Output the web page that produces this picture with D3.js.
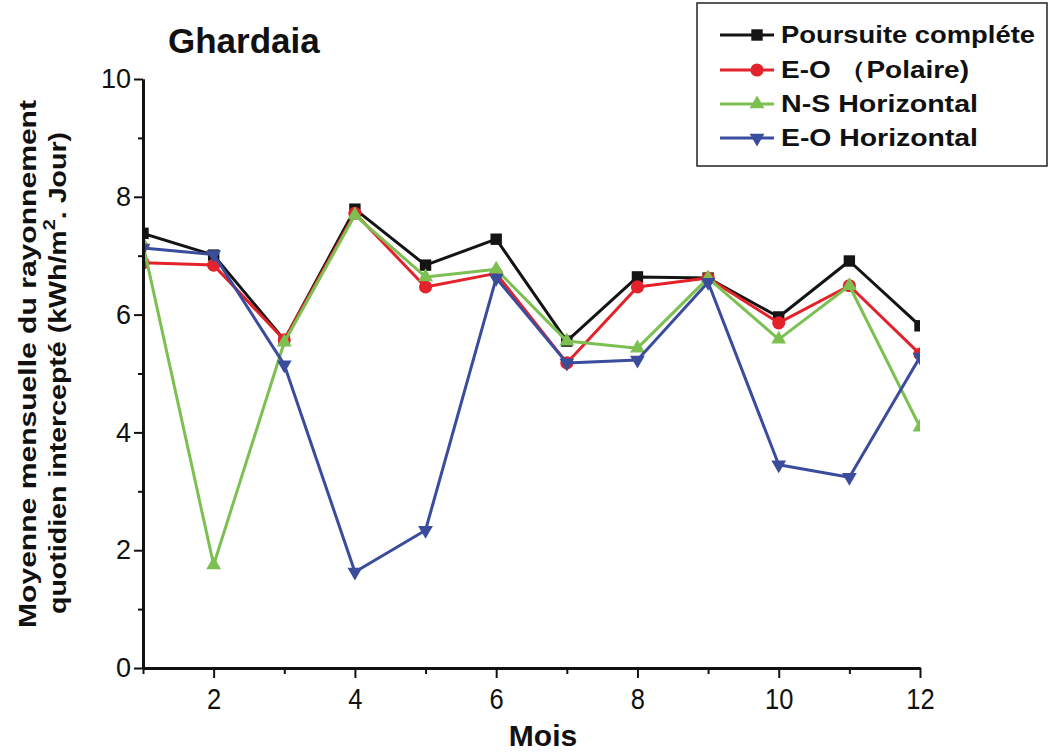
<!DOCTYPE html>
<html>
<head>
<meta charset="utf-8">
<script src="https://cdn.jsdelivr.net/npm/d3@7"></script>
<style>
  body { margin: 0; background: #fff; }
  svg { display: block; }
  text { font-family: "Liberation Sans", Arial, Helvetica, sans-serif; fill: #111; }
</style>
</head>
<body>
<svg id="chart" width="1051" height="755"></svg>
<script>
// Monthly mean daily intercepted irradiation at Ghardaia (kWh/m².Jour)
const months = [1, 2, 3, 4, 5, 6, 7, 8, 9, 10, 11, 12];
const poursuiteComplete = [7.38, 7.01, 5.57, 7.79, 6.84, 7.28, 5.55, 6.64, 6.62, 5.96, 6.91, 5.81];
const eoPolaire         = [6.88, 6.84, 5.57, 7.72, 6.47, 6.70, 5.18, 6.47, 6.62, 5.86, 6.49, 5.33];
const nsHorizontal      = [7.20, 1.75, 5.53, 7.69, 6.64, 6.77, 5.55, 5.43, 6.62, 5.58, 6.49, 4.09];
const eoHorizontal      = [7.13, 7.02, 5.15, 1.63, 2.34, 6.62, 5.18, 5.23, 6.55, 3.45, 3.24, 5.28];
const seriesNames = ["Poursuite compléte", "E-O （Polaire)", "N-S Horizontal", "E-O Horizontal"];

const xMajorTicks = [2, 4, 6, 8, 10, 12];
const xMinorTicks = [1, 3, 5, 7, 9, 11];
const yMajorTicks = [0, 2, 4, 6, 8, 10];
const yMinorTicks = [1, 3, 5, 7, 9];

const titleText = "Ghardaia";
const xLabel = "Mois";

const svg = d3.select("#chart");
const plot = { left: 143, right: 920, top: 79, bottom: 668 };

const x = d3.scaleLinear().domain([1, 12]).range([plot.left, plot.right]);
const y = d3.scaleLinear().domain([0, 10]).range([plot.bottom, plot.top]);

const series = [
  { name: seriesNames[0], values: poursuiteComplete, color: "#141414", symbol: d3.symbolSquare, size: 130, rotate: 0 },
  { name: seriesNames[1], values: eoPolaire,         color: "#e3222b", symbol: d3.symbolCircle, size: 135, rotate: 0 },
  { name: seriesNames[2], values: nsHorizontal,      color: "#7cc052", symbol: d3.symbolTriangle, size: 95, rotate: 0 },
  { name: seriesNames[3], values: eoHorizontal,      color: "#3a4c9c", symbol: d3.symbolTriangle, size: 95, rotate: 180 }
];

// clip marks to the plotting frame
svg.append("defs").append("clipPath").attr("id", "plotClip")
  .append("rect")
  .attr("x", plot.left).attr("y", 0)
  .attr("width", plot.right - plot.left).attr("height", plot.bottom);

const marks = svg.append("g").attr("clip-path", "url(#plotClip)");
const line = d3.line().x((d, i) => x(months[i])).y(d => y(d));

series.forEach(s => {
  const g = marks.append("g");
  g.append("path")
    .attr("d", line(s.values))
    .attr("fill", "none")
    .attr("stroke", s.color)
    .attr("stroke-width", 3)
    .attr("stroke-linejoin", "round");
  g.selectAll("path.pt")
    .data(s.values)
    .join("path")
    .attr("class", "pt")
    .attr("d", d3.symbol().type(s.symbol).size(s.size))
    .attr("transform", (d, i) => `translate(${x(months[i])},${y(d)}) rotate(${s.rotate})`)
    .attr("fill", s.color);
});

// axes
function styleAxis(g) {
  g.select(".domain").attr("stroke", "#111").attr("stroke-width", 3);
  g.selectAll(".tick line").attr("stroke", "#111").attr("stroke-width", 2);
}

const yAxisMinor = svg.append("g")
  .attr("transform", `translate(${plot.left},0)`)
  .call(d3.axisLeft(y).tickValues(yMinorTicks).tickSize(5).tickSizeOuter(0).tickFormat(""));
styleAxis(yAxisMinor);

const yAxis = svg.append("g")
  .attr("transform", `translate(${plot.left},0)`)
  .call(d3.axisLeft(y).tickValues(yMajorTicks).tickSize(9).tickSizeOuter(0).tickPadding(3).tickFormat(d3.format("d")));
styleAxis(yAxis);
yAxis.selectAll(".tick text")
  .attr("font-size", 27)
  .attr("font-family", "'Liberation Sans', Arial, sans-serif")
  .attr("fill", "#222");

const xAxisMinor = svg.append("g")
  .attr("transform", `translate(0,${plot.bottom})`)
  .call(d3.axisBottom(x).tickValues(xMinorTicks).tickSize(6).tickSizeOuter(0).tickFormat(""));
styleAxis(xAxisMinor);

const xAxis = svg.append("g")
  .attr("transform", `translate(0,${plot.bottom})`)
  .call(d3.axisBottom(x).tickValues(xMajorTicks).tickSize(10).tickSizeOuter(0).tickPadding(10).tickFormat(d3.format("d")));
styleAxis(xAxis);
xAxis.selectAll(".tick text")
  .attr("font-size", 30)
  .attr("font-family", "'Liberation Sans', Arial, sans-serif")
  .attr("fill", "#222")
  .attr("transform", "scale(0.85,1)");

// title
svg.append("text")
  .attr("x", 168).attr("y", 53)
  .attr("font-size", 35).attr("font-weight", "bold")
  .text(titleText);

// x-axis title
svg.append("text")
  .attr("x", 543).attr("y", 746)
  .attr("text-anchor", "middle")
  .attr("font-size", 30).attr("font-weight", "bold")
  .text(xLabel);

// y-axis title (two lines)
svg.append("text")
  .attr("transform", "translate(36,628) rotate(-90)")
  .attr("font-size", 23).attr("font-weight", "bold")
  .attr("textLength", 528).attr("lengthAdjust", "spacingAndGlyphs")
  .text("Moyenne mensuelle du rayonnement");

const yTitle2 = svg.append("text")
  .attr("transform", "translate(66,614) rotate(-90)")
  .attr("font-size", 23).attr("font-weight", "bold")
  .attr("textLength", 482).attr("lengthAdjust", "spacingAndGlyphs");
yTitle2.append("tspan").text("quotidien intercepté (kWh/m");
yTitle2.append("tspan").attr("font-size", 16).attr("dy", -11).text("2");
yTitle2.append("tspan").attr("dy", 11).text(". Jour)");

// legend
const legend = svg.append("g");
legend.append("rect")
  .attr("x", 697).attr("y", 3)
  .attr("width", 350).attr("height", 163)
  .attr("fill", "#fff").attr("stroke", "#222").attr("stroke-width", 1.5);

const legendRowY = [35, 70, 104, 138];
const legendTextLen = [254, 188, 197, 197];
series.forEach((s, i) => {
  const cy = legendRowY[i];
  legend.append("line")
    .attr("x1", 720).attr("x2", 774)
    .attr("y1", cy).attr("y2", cy)
    .attr("stroke", s.color).attr("stroke-width", 3);
  legend.append("path")
    .attr("d", d3.symbol().type(s.symbol).size(s.size)())
    .attr("transform", `translate(757,${cy}) rotate(${s.rotate})`)
    .attr("fill", s.color);
  legend.append("text")
    .attr("x", 781).attr("y", cy + 8)
    .attr("font-size", 23).attr("font-weight", "bold")
    .attr("textLength", legendTextLen[i]).attr("lengthAdjust", "spacingAndGlyphs")
    .text(s.name);
});
</script>
</body>
</html>
